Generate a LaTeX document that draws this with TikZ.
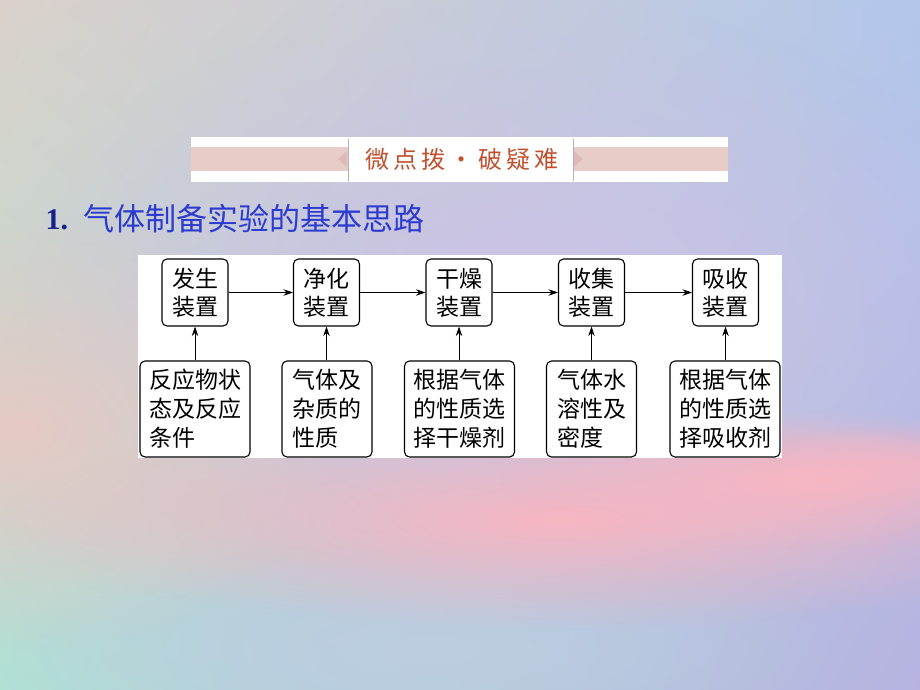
\documentclass[tikz,border=0pt]{standalone}
\usepackage{fontspec}
\setmainfont{Liberation Serif}
\newfontfamily\cjk{Noto Sans CJK SC}
\newfontfamily\cjkancho[LetterSpace=18]{Noto Sans CJK SC}
\usetikzlibrary{arrows.meta,shadings,fadings}

\definecolor{fondoA}{HTML}{DAD1CA}
\definecolor{fondoB}{HTML}{B3C7EA}
\definecolor{fondoC}{HTML}{B1E0D5}
\definecolor{fondoD}{HTML}{B6B3E0}
\definecolor{lila}{HTML}{CDC2E6}
\definecolor{celeste}{HTML}{BDCDE2}
\definecolor{rosa}{HTML}{F8B6C2}
\definecolor{beigerosa}{HTML}{E6C9C4}
\definecolor{rosabanda}{HTML}{E8CCC8}
\definecolor{rosatri}{HTML}{DDB9B9}
\definecolor{rojizo}{HTML}{C1502E}
\definecolor{azul}{HTML}{2B3BD0}
\definecolor{marino}{HTML}{15208E}

\tikzfading[name=difuso, inner color=transparent!0, outer color=transparent!100]

\begin{document}
\begin{tikzpicture}[x=1pt,y=-1pt,
    zhuangzhi/.style={draw, line width=1.1pt, rounded corners=5pt,
      minimum width=66pt, minimum height=67pt, inner sep=0pt,
      align=center, font=\cjk\fontsize{23}{28}\selectfont},
    yiju/.style={draw, line width=1.1pt, rounded corners=5pt,
      text width=#1, minimum width=90pt, minimum height=96pt,
      inner xsep=9pt, align=left, font=\cjk\fontsize{23}{29}\selectfont},
    jiantou/.style={-{Stealth[length=9.5pt,width=6.5pt]}, line width=0.8pt}]
    \useasboundingbox (0,0) rectangle (920,690);

    % Fondo
    \begin{scope}
      \clip (0,0) rectangle (920,690);
      \shade[upper left=fondoA, upper right=fondoB, lower left=fondoC, lower right=fondoD]
        (0,0) rectangle (920,690);
      \fill[lila, path fading=difuso] (520,300) ellipse (520 and 300);
      \fill[celeste, path fading=difuso] (430,650) ellipse (420 and 110);
      \fill[beigerosa, path fading=difuso] (20,430) ellipse (330 and 220);
      \fill[rosa, path fading=difuso] (560,520) ellipse (560 and 110);
      \fill[rosa, path fading=difuso] (800,480) ellipse (300 and 70);
      \fill[rosa, opacity=0.7, path fading=difuso] (900,465) ellipse (150 and 40);
    \end{scope}

    % Cinta del encabezado
    \fill[white] (191,137) rectangle (728,182);
    \fill[rosabanda] (191,147) rectangle (728,171);
    \fill[white] (348,137) rectangle (573,182);
    \fill[rosatri] (347,151) -- (338,159) -- (347,167) -- cycle;
    \fill[rosatri] (574,151) -- (583,159) -- (574,167) -- cycle;
    \draw[black!30, line width=0.8pt] (348,139) -- (348,181);
    \draw[black!30, line width=0.8pt] (573,139) -- (573,181);
    \node[text=rojizo, font=\cjkancho\fontsize{24}{24}\selectfont] (cinta) at (462,159) {微点拨·破疑难};

    % Titulo
    \node[anchor=west, text=marino, font=\bfseries\fontsize{30}{30}\selectfont] (numero) at (42,220) {1.};
    \node[anchor=west, text=azul, font=\cjk\fontsize{31}{31}\selectfont] (titulo) at (80,219) {气体制备实验的基本思路};

    % Panel blanco
    \fill[white] (138,255) rectangle (782,458);

    % Aparatos
    \node[zhuangzhi] (fasheng) at (195,292.5) {发生\\装置};
    \node[zhuangzhi] (jinghua) at (326.5,292.5) {净化\\装置};
    \node[zhuangzhi] (ganzao) at (459,292.5) {干燥\\装置};
    \node[zhuangzhi] (shouji) at (591.5,292.5) {收集\\装置};
    \node[zhuangzhi] (xishou) at (725.5,292.5) {吸收\\装置};

    % Criterios
    \node[yiju=92pt] (zhuangtai) at (195,409) {反应物状\\态及反应\\条件};
    \node[yiju=69pt] (zazhi) at (327,409) {气体及\\杂质的\\性质};
    \node[yiju=92pt] (ganzaoji) at (459.5,409) {根据气体\\的性质选\\择干燥剂};
    \node[yiju=69pt] (midu) at (591.5,409) {气体水\\溶性及\\密度};
    \node[yiju=92pt] (xishouji) at (725,409) {根据气体\\的性质选\\择吸收剂};

    % Flechas
    \draw[jiantou] (fasheng) -- (jinghua);
    \draw[jiantou] (jinghua) -- (ganzao);
    \draw[jiantou] (ganzao) -- (shouji);
    \draw[jiantou] (shouji) -- (xishou);
    \draw[jiantou] (zhuangtai.north -| fasheng) -- (fasheng.south);
    \draw[jiantou] (zazhi.north -| jinghua) -- (jinghua.south);
    \draw[jiantou] (ganzaoji.north -| ganzao) -- (ganzao.south);
    \draw[jiantou] (midu.north -| shouji) -- (shouji.south);
    \draw[jiantou] (xishouji.north -| xishou) -- (xishou.south);
\end{tikzpicture}
\end{document}
